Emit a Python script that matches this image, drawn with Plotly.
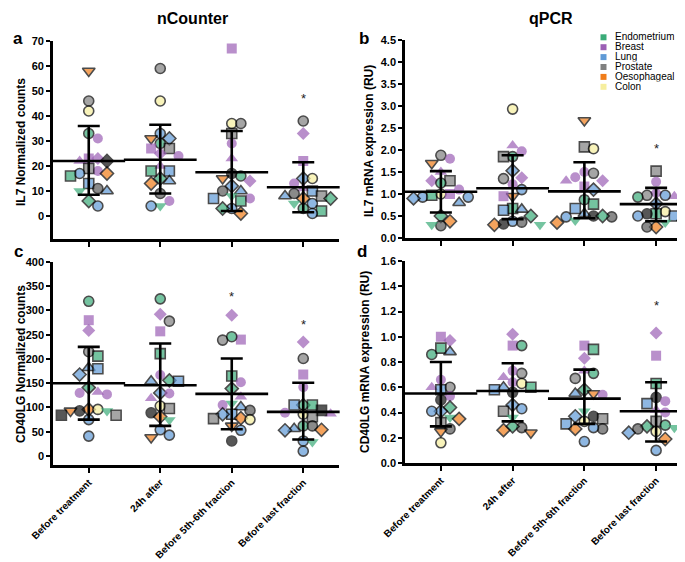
import plotly.graph_objects as go

GROUPS = ["Before treatment", "24h after", "Before 5th-6th fraction", "Before last fraction"]
TISSUES = ["Endometrium", "Breast", "Lung", "Prostate", "Oesophageal", "Colon"]
TISSUE_COLORS = ["#3aab78", "#9b5fb5", "#5f9ad6", "#808080", "#f07d1a", "#f6ee9e"]

# patient code = tissue prefix + marker shape
# E endometrium, B breast, L lung, P prostate, O oesophageal, C colon, K unknown (black)

IL7_NC = [
    [("O_td", 58), ("P_c", 46), ("C_h", 42), ("E_c", 33), ("B_c", 31), ("B_sq", 23), ("B_d", 23),
     ("B_t", 22), ("K_d", 22), ("B_c2", 18), ("P_sq", 19), ("L_c", 17), ("O_d", 17), ("E_sq", 16),
     ("L_sq", 13), ("E_td", 10), ("L_t", 10), ("P_c2", 11), ("L_h", 4), ("E_d", 6)],
    [("P_c", 59), ("C_h", 46), ("L_c", 33), ("L_d", 31), ("O_td", 31), ("E_c", 29), ("P_sq", 27),
     ("B_sq", 27), ("B_d", 25), ("B_c", 24), ("B_t", 20), ("L_sq", 18), ("E_sq", 18), ("E_d", 15),
     ("L_t", 14), ("O_d", 13), ("P_c2", 9), ("B_c2", 6), ("E_td", 4), ("L_h", 4)],
    [("B_sq", 67), ("C_h", 37), ("P_c", 37), ("P_sq", 33), ("B_c", 29), ("B_t", 23), ("K_c", 17),
     ("E_c", 16), ("O_td", 15), ("B_d", 14), ("L_d", 12), ("L_t", 10), ("P_c2", 10), ("E_td", 8),
     ("B_c2", 7), ("L_sq", 7), ("E_sq", 6), ("L_h", 3), ("E_d", 3), ("O_d", 1)],
    [("P_c", 38), ("B_d", 33), ("B_sq", 22), ("L_d", 15), ("C_h", 15), ("B_c", 13), ("B_t", 11),
     ("L_sq", 10), ("P_c2", 9), ("P_sq", 8), ("L_t", 8), ("O_d", 7), ("E_d", 7), ("L_c", 5),
     ("E_td", 5), ("E_c", 3), ("E_sq", 2), ("L_h", 1)],
]
IL7_NC_MEAN = [22, 22.5, 17.5, 11.5]
IL7_NC_LOW = [8.5, 9, 2, 1.5]
IL7_NC_HIGH = [36, 36.5, 34, 21.5]

IL7_QPCR = [
    [("P_c", 1.88), ("B_c", 1.8), ("O_td", 1.7), ("B_t", 1.5), ("P_sq", 1.3), ("B_d", 1.3),
     ("E_c", 1.25), ("B_c2", 1.1), ("L_c", 0.93), ("L_d", 0.9), ("L_h", 0.93), ("C_h", 1.0),
     ("E_sq", 0.97), ("B_sq", 1.0), ("L_t", 0.8), ("E_d", 0.5), ("O_d", 0.38), ("P_c2", 0.28),
     ("E_td", 0.3)],
    [("C_h", 2.93), ("B_t", 2.1), ("B_c", 1.97), ("E_c", 1.85), ("P_sq", 1.85), ("L_d", 1.53),
     ("B_d", 1.37), ("P_c", 1.35), ("B_c2", 1.22), ("L_c", 1.1), ("O_td", 0.95), ("B_sq", 0.95),
     ("E_sq", 0.67), ("L_sq", 0.63), ("L_t", 0.65), ("L_h", 0.38), ("E_d", 0.5), ("O_d", 0.3),
     ("P_c2", 0.36), ("E_td", 0.3), ("K_c", 0.32)],
    [("O_td", 2.67), ("P_sq", 2.07), ("C_h", 2.03), ("B_c", 1.5), ("P_c", 1.47), ("B_c2", 1.38),
     ("B_d", 1.3), ("B_t", 1.3), ("B_sq", 1.17), ("L_d", 1.1), ("E_c", 0.87), ("E_sq", 0.77),
     ("L_sq", 0.67), ("L_t", 0.55), ("K_c", 0.5), ("L_h", 0.48), ("P_c2", 0.48), ("E_d", 0.5),
     ("O_d", 0.35), ("E_td", 0.4)],
    [("P_sq", 1.52), ("B_c", 1.28), ("B_d", 1.02), ("B_t", 0.95), ("L_c", 0.97), ("P_c", 0.97),
     ("E_c", 0.93), ("B_sq", 0.9), ("L_d", 0.78), ("C_h", 0.6), ("E_sq", 0.55), ("L_sq", 0.5),
     ("L_h", 0.5), ("K_c", 0.55), ("E_d", 0.4), ("E_td", 0.35), ("O_d", 0.25), ("P_c2", 0.25)],
]
IL7_QPCR_MEAN = [1.05, 1.13, 1.06, 0.77]
IL7_QPCR_LOW = [0.58, 0.43, 0.45, 0.38]
IL7_QPCR_HIGH = [1.52, 1.88, 1.72, 1.14]

CD40_NC = [
    [("E_c", 319), ("B_sq", 280), ("B_d", 259), ("P_c", 215), ("E_sq", 206), ("L_t", 182),
     ("L_sq", 180), ("L_d", 168), ("E_d", 141), ("B_t", 132), ("B_c", 130), ("B_c2", 127),
     ("O_d", 96), ("C_h", 96), ("K_c", 93), ("E_td", 93), ("O_td", 93), ("P_sq", 84), ("K_sq", 84),
     ("L_c", 75), ("L_h", 41)],
    [("E_c", 324), ("B_d", 292), ("P_c", 278), ("B_sq", 257), ("E_sq", 211), ("B_c", 167),
     ("E_d", 156), ("L_t", 154), ("L_sq", 154), ("L_d", 130), ("B_c2", 129), ("B_t", 119),
     ("C_h", 103), ("P_sq", 98), ("K_c", 89), ("O_d", 81), ("E_td", 74), ("L_h", 54),
     ("O_td", 38), ("L_c", 43)],
    [("B_d", 290), ("P_c", 239), ("B_sq", 240), ("E_c", 246), ("E_sq", 165), ("B_c", 152),
     ("E_d", 139), ("B_t", 122), ("E_td", 108), ("B_c2", 105), ("L_t", 101), ("P_c2", 94),
     ("L_sq", 86), ("L_d", 86), ("P_sq", 77), ("O_d", 78), ("C_h", 75), ("O_td", 62),
     ("L_h", 53), ("K_c", 31)],
    [("B_d", 235), ("P_c", 201), ("B_sq", 168), ("B_c", 142), ("E_d", 105), ("E_sq", 105),
     ("L_sq", 105), ("B_c2", 89), ("B_t", 87), ("C_h", 86), ("K_sq", 94), ("P_sq", 81),
     ("E_c", 62), ("P_c2", 62), ("L_t", 56), ("O_d", 54), ("L_d", 53), ("L_h", 31),
     ("E_td", 29), ("L_c", 10)],
]
CD40_NC_MEAN = [150, 146, 128, 91]
CD40_NC_LOW = [75, 62, 55, 34]
CD40_NC_HIGH = [225, 232, 201, 151]

CD40_QPCR = [
    [("B_sq", 1.0), ("B_d", 0.97), ("E_sq", 0.91), ("L_t", 0.88), ("E_c", 0.86), ("B_c", 0.66),
     ("P_c", 0.6), ("B_t", 0.6), ("L_sq", 0.58), ("B_c2", 0.53), ("K_c", 0.5), ("E_d", 0.44),
     ("L_d", 0.41), ("L_c", 0.41), ("E_td", 0.36), ("O_d", 0.35), ("P_sq", 0.32), ("P_c2", 0.27),
     ("O_td", 0.25), ("C_h", 0.16)],
    [("B_d", 1.02), ("B_sq", 0.93), ("E_c", 0.93), ("P_c", 0.71), ("B_c", 0.73), ("B_t", 0.68),
     ("B_c2", 0.64), ("C_h", 0.63), ("L_t", 0.6), ("E_sq", 0.6), ("K_c", 0.56), ("L_sq", 0.58),
     ("L_d", 0.46), ("L_c", 0.43), ("P_sq", 0.41), ("E_td", 0.36), ("P_c2", 0.28), ("E_d", 0.29),
     ("O_d", 0.26), ("O_td", 0.24)],
    [("B_sq", 0.93), ("E_sq", 0.9), ("B_d", 0.83), ("B_t", 0.73), ("E_c", 0.71), ("P_c", 0.67),
     ("E_d", 0.58), ("O_td", 0.55), ("B_c", 0.54), ("L_t", 0.55), ("E_td", 0.41), ("K_c", 0.37),
     ("L_d", 0.37), ("P_sq", 0.35), ("C_h", 0.33), ("L_sq", 0.31), ("O_d", 0.27), ("P_c2", 0.27),
     ("L_c", 0.28), ("L_h", 0.17)],
    [("B_d", 1.03), ("B_sq", 0.85), ("E_sq", 0.63), ("K_c", 0.52), ("B_c", 0.49), ("L_sq", 0.47),
     ("B_t", 0.42), ("B_c2", 0.4), ("P_sq", 0.33), ("E_c", 0.3), ("E_d", 0.29), ("E_td", 0.28),
     ("P_c2", 0.27), ("C_h", 0.25), ("L_c", 0.25), ("L_d", 0.24), ("O_d", 0.19), ("L_h", 0.1)],
]
CD40_QPCR_MEAN = [0.55, 0.57, 0.51, 0.41]
CD40_QPCR_LOW = [0.29, 0.33, 0.31, 0.17]
CD40_QPCR_HIGH = [0.8, 0.79, 0.74, 0.64]

# significance stars: (group index, y position)
STARS_A = [(2, 74), (3, 48)]
STARS_B = [(3, 2.1)]
STARS_C = [(2, 336), (3, 278)]
STARS_D = [(3, 1.27)]

# ---------------------------------------------------------------- styling
W, H = 685, 562
FONT = "Liberation Sans, Arial, sans-serif"
PREFIX_COLOR = {"E": TISSUE_COLORS[0], "B": TISSUE_COLORS[1], "L": TISSUE_COLORS[2],
                "P": TISSUE_COLORS[3], "O": TISSUE_COLORS[4], "C": TISSUE_COLORS[5], "K": "#111111"}
SHAPE = {"sq": "square", "c": "circle", "c2": "circle", "td": "triangle-down", "d": "diamond",
         "t": "triangle-up", "h": "circle"}


def style(code):
    pre, shp = code.split("_")
    color = PREFIX_COLOR[pre]
    if pre == "P" and shp == "c2":
        color = "#5a5a5a"
    outline = 0 if (pre == "B" or code == "E_td") else 1.6
    size = 11 if shp in ("td", "t") else 10
    return SHAPE[shp], color, outline, size


# panel geometry in px: (x_left, x_right, y_top, y_bottom), y range
PANELS = [
    dict(data=IL7_NC, mean=IL7_NC_MEAN, low=IL7_NC_LOW, high=IL7_NC_HIGH, stars=STARS_A,
         px=(45, 331, 33, 231), yr=[-9.2, 70], dtick=10, fmt="d", labels=False),
    dict(data=IL7_QPCR, mean=IL7_QPCR_MEAN, low=IL7_QPCR_LOW, high=IL7_QPCR_HIGH, stars=STARS_B,
         px=(397, 684, 32, 230), yr=[0, 4.5], dtick=0.5, fmt=".1f", labels=False),
    dict(data=CD40_NC, mean=CD40_NC_MEAN, low=CD40_NC_LOW, high=CD40_NC_HIGH, stars=STARS_C,
         px=(45, 331, 254, 457), yr=[-18.6, 400], dtick=50, fmt="d", labels=True),
    dict(data=CD40_QPCR, mean=CD40_QPCR_MEAN, low=CD40_QPCR_LOW, high=CD40_QPCR_HIGH, stars=STARS_D,
         px=(397, 684, 253, 455), yr=[0, 1.6], dtick=0.2, fmt=".1f", labels=True),
]
XR = [-0.5, 3.5]


def swarm(values, ppy, ppx, diam):
    order = sorted(range(len(values)), key=lambda i: -values[i])
    placed = []
    offs = [0.0] * len(values)
    step = diam * 0.95
    for i in order:
        y = values[i] * ppy
        k = 0
        while True:
            c = ((k + 1) // 2) * (1 if k % 2 == 1 else -1)
            x = c * step
            if all((x - px) ** 2 + (y - py) ** 2 >= (diam * 0.92) ** 2 for px, py in placed):
                break
            k += 1
        placed.append((x, y))
        offs[i] = x / ppx
    return offs


fig = go.Figure()
annotations = []
layout = {}

for p_i, P in enumerate(PANELS):
    n = "" if p_i == 0 else str(p_i + 1)
    xa, ya = "x" + n, "y" + n
    xl, xr, yt, yb = P["px"]
    ppx = (xr - xl) / (XR[1] - XR[0])
    ppy = (yb - yt) / (P["yr"][1] - P["yr"][0])
    xs, ys, syms, cols, lws, sizes = [], [], [], [], [], []
    for g, pts in enumerate(P["data"]):
        vals = [v for _, v in pts]
        offs = swarm(vals, ppy, ppx, 9.6)
        for (code, v), o in zip(pts, offs):
            s, c, lw, sz = style(code)
            xs.append(g + o)
            ys.append(v)
            syms.append(s)
            cols.append(c)
            lws.append(lw)
            sizes.append(sz)
    fig.add_trace(go.Scatter(
        x=xs, y=ys, mode="markers", xaxis=xa, yaxis=ya, showlegend=False, cliponaxis=False,
        marker=dict(symbol=syms, color=cols, size=sizes, line=dict(color="black", width=lws))))
    mean = P["mean"]
    fig.add_trace(go.Scatter(
        x=list(range(4)), y=mean, mode="markers", xaxis=xa, yaxis=ya, showlegend=False,
        cliponaxis=False,
        marker=dict(symbol="line-ew", size=52, color="black", line=dict(color="black", width=2.6)),
        error_y=dict(type="data", symmetric=False,
                     array=[h - m for h, m in zip(P["high"], mean)],
                     arrayminus=[m - l for m, l in zip(mean, P["low"])],
                     thickness=2.6, width=11, color="black")))
    for g, y in P["stars"]:
        annotations.append(dict(x=g, y=y, xref=xa, yref=ya, text="*", showarrow=False,
                                yshift=-3, font=dict(family=FONT, size=13, color="#222")))
    axis_common = dict(showline=True, linewidth=2.6, linecolor="black", ticks="outside",
                       tickwidth=2, ticklen=5, tickcolor="black", showgrid=False, zeroline=False,
                       automargin=False,
                       tickfont=dict(family=FONT, size=11, color="black", weight="bold"))
    layout["xaxis" + n] = dict(
        axis_common, domain=[xl / W, xr / W], range=XR, anchor=ya,
        tickvals=list(range(4)), ticktext=GROUPS, showticklabels=P["labels"], tickangle=-45,
        tickfont=dict(family=FONT, size=10, color="black", weight="bold"))
    layout["yaxis" + n] = dict(
        axis_common, domain=[1 - yb / H, 1 - yt / H], range=P["yr"], anchor=xa,
        tick0=0, dtick=P["dtick"], tickformat=P["fmt"], ticklen=4)

# text annotations in paper px
def pa(x, y, text, size, bold=True, angle=0, xanchor="center", yanchor="middle", height=None):
    d = dict(x=x / W, y=1 - y / H, xref="paper", yref="paper", text=text,
             showarrow=False, textangle=angle, xanchor=xanchor, yanchor=yanchor,
             font=dict(family=FONT, size=size, color="black",
                       weight="bold" if bold else "normal"))
    if height:
        d["height"] = height
    annotations.append(d)

pa(184, 10, "nCounter", 16)
pa(543, 10, "qPCR", 16)
pa(10, 31, "a", 17)
pa(356, 31, "b", 17)
pa(10, 244, "c", 17)
pa(354, 243, "d", 17)
pa(13, 134, "IL7 Normalized counts", 12, angle=-90)
pa(361, 133, "IL7 mRNA expression (RU)", 12, angle=-90)
pa(13, 356, "CD40LG Normalized counts", 12, angle=-90)
pa(357, 354, "CD40LG mRNA expression (RU)", 12, angle=-90)

shapes = []
for i, (t, c) in enumerate(zip(TISSUES, TISSUE_COLORS)):
    yc = 29.3 + i * 9.9
    shapes.append(dict(type="rect", xref="paper", yref="paper",
                       x0=592.5 / W, x1=598.5 / W, y0=1 - (yc + 3) / H, y1=1 - (yc - 3) / H,
                       fillcolor=c, line=dict(width=0)))
    pa(604.5, yc, t, 10, bold=False, xanchor="left", height=9.6)

fig.update_layout(
    width=W, height=H, margin=dict(l=0, r=0, t=0, b=0),
    paper_bgcolor="white", plot_bgcolor="white",
    annotations=annotations, shapes=shapes, **layout)

fig.write_html("out.html")
